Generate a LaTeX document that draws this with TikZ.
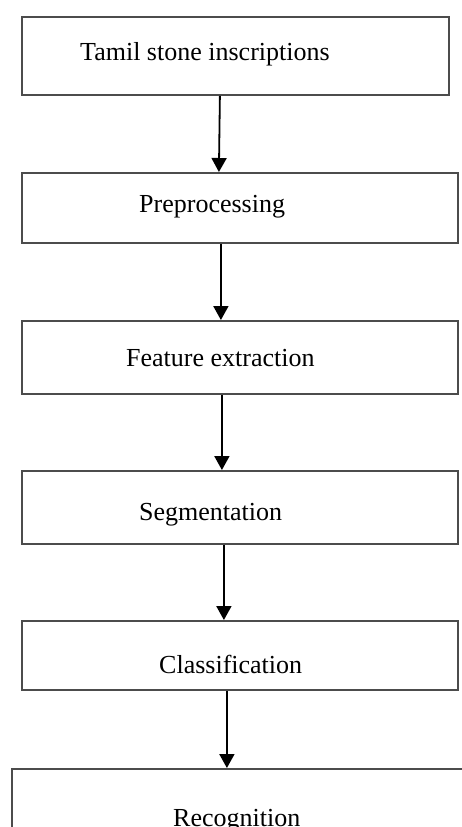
\documentclass[tikz,border=0pt]{standalone}
\usepackage{fontspec}
\setmainfont{Liberation Serif}
\usetikzlibrary{arrows.meta}
\tikzset{
  stage/.style = {draw=black!70, line width=1.8pt, anchor=north west, inner sep=0pt, minimum width=#1},
  label/.style = {anchor=base west, inner sep=0pt, font=\fontsize{26}{30}\selectfont},
  flow/.style = {color=black, line width=1.8pt, -{Triangle[length=14pt,width=15pt]}}
}

\begin{document}
\begin{tikzpicture}[x=1pt, y=-1pt]

    \useasboundingbox (0,0) rectangle (462,827);

    % Body
    \node[stage={427pt}, minimum height=78pt] (tamil) at (21,16) {};
    \node[stage={436pt}, minimum height=70pt] (prep) at (21,172) {};
    \node[stage={436pt}, minimum height=73pt] (feat) at (21,320) {};
    \node[stage={436pt}, minimum height=73pt] (segm) at (21,470) {};
    \node[stage={436pt}, minimum height=69pt] (clas) at (21,620) {};
    \node[stage={470pt}, minimum height=90pt] (reco) at (11,768) {};

    % Labels
    \node[label] (tamilT) at (80,60) {Tamil stone inscriptions};
    \node[label] (prepT) at (139,212) {Preprocessing};
    \node[label] (featT) at (126,366) {Feature extraction};
    \node[label] (segmT) at (139,520) {Segmentation};
    \node[label] (clasT) at (159,673) {Classification};
    \node[label] (recoT) at (173,826) {Recognition};

    % Flow
    \draw[flow] ([xshift=-15.5pt]tamil.south) -- ([xshift=-21pt]prep.north);
    \draw[flow] ([xshift=-19pt]prep.south) -- ([xshift=-19pt]feat.north);
    \draw[flow] ([xshift=-18pt]feat.south) -- ([xshift=-18pt]segm.north);
    \draw[flow] ([xshift=-16pt]segm.south) -- ([xshift=-16pt]clas.north);
    \draw[flow] ([xshift=-13pt]clas.south) -- ([xshift=-20pt]reco.north);

\end{tikzpicture}
\end{document}
